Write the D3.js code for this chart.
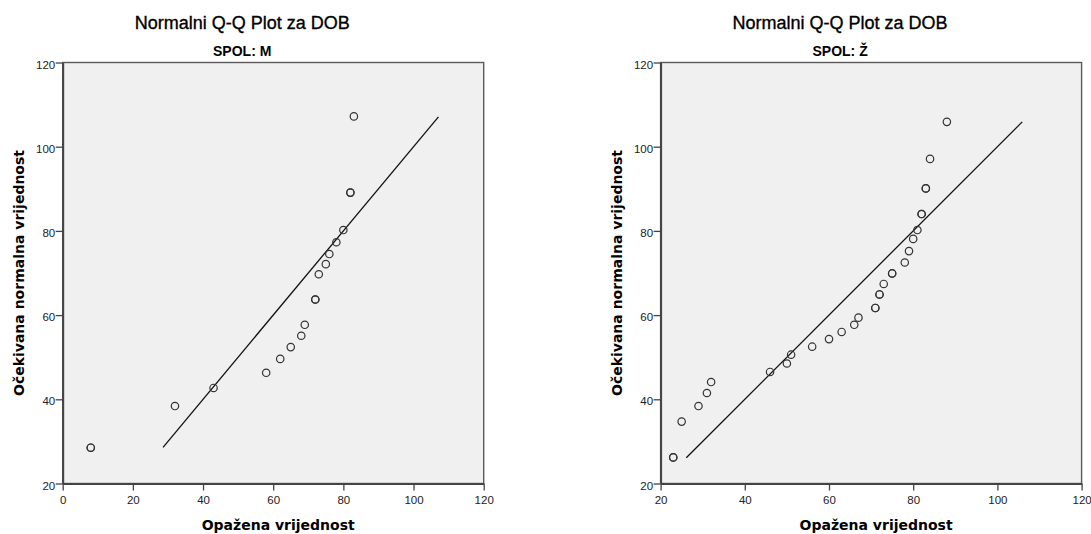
<!DOCTYPE html>
<html>
<head>
<meta charset="utf-8">
<script src="https://cdn.jsdelivr.net/npm/d3@7"></script>
<style>
  body { margin: 0; background: #fff; }
  svg { display: block; }
  .tick text { font-family: "Liberation Sans", Arial, sans-serif; font-size: 11.5px; fill: #222; }
  .tick line { stroke: #444; stroke-width: 1.3; }
  .domain { stroke: #444; stroke-width: 2; }
</style>
</head>
<body>
<div id="chart"></div>
<script>
// panel subtitles
const groups = ['SPOL: M', 'SPOL: Ž'];

// observed values (x) and expected normal values (y), ties repeated
const observedM = [8, 8, 32, 43, 58, 62, 65, 68, 69, 72, 72, 73, 75, 76, 78, 80, 82, 82, 83];
const expectedM = [28.5, 28.5, 38.4, 42.7, 46.3, 49.6, 52.4, 55.1, 57.7, 63.7, 63.7, 69.7, 72.1, 74.5, 77.3, 80.2, 89.1, 89.1, 107.2];

const observedZ = [23, 23, 25, 29, 31, 32, 46, 50, 51, 56, 60, 63, 66, 67, 71, 71, 72, 72, 73, 75, 75, 78, 79, 80, 81, 82, 82, 83, 83, 84, 88];
const expectedZ = [26.2, 26.2, 34.7, 38.4, 41.5, 44.1, 46.5, 48.5, 50.6, 52.5, 54.3, 56.0, 57.7, 59.4, 61.7, 61.7, 64.9, 64.9, 67.4, 69.9, 69.9, 72.5, 75.2, 78.1, 80.2, 84.0, 84.0, 90.1, 90.1, 97.1, 105.9];

// reference line y = x, start and end
const lineM = [28.6, 107.1];
const lineZ = [26.1, 105.9];

// axis ticks
const xTicksM = [0, 20, 40, 60, 80, 100, 120];
const xTicksZ = [20, 40, 60, 80, 100, 120];
const yTicks = [20, 40, 60, 80, 100, 120];

const width = 1091, height = 534;
const svg = d3.select('#chart').append('svg')
    .attr('width', width)
    .attr('height', height);

const panels = [
    { left: 62.7, sub: groups[0], obs: observedM, exp: expectedM, line: lineM, xTicks: xTicksM },
    { left: 660.6, sub: groups[1], obs: observedZ, exp: expectedZ, line: lineZ, xTicks: xTicksZ }
];

const plotTop = 62.5, size = 421;

panels.forEach(p => {
    const xScale = d3.scaleLinear()
        .domain(d3.extent(p.xTicks))
        .range([p.left, p.left + size]);
    const yScale = d3.scaleLinear()
        .domain(d3.extent(yTicks))
        .range([plotTop + size, plotTop]);

    const g = svg.append('g');

    // plot background and frame
    g.append('rect')
        .attr('x', p.left)
        .attr('y', plotTop)
        .attr('width', size)
        .attr('height', size)
        .style('fill', '#f0f0f0')
        .style('stroke', '#5a5a5a')
        .style('stroke-width', 1.4);

    // reference line
    g.append('line')
        .attr('x1', xScale(p.line[0]))
        .attr('y1', yScale(p.line[0]))
        .attr('x2', xScale(p.line[1]))
        .attr('y2', yScale(p.line[1]))
        .style('stroke', '#111')
        .style('stroke-width', 1.3);

    // points
    const pts = p.obs.map((v, i) => ({ x: v, y: p.exp[i] }));
    g.selectAll('.pt')
        .data(pts)
        .enter().append('circle')
        .attr('class', 'pt')
        .attr('cx', d => xScale(d.x))
        .attr('cy', d => yScale(d.y))
        .attr('r', 3.7)
        .style('fill', 'none')
        .style('stroke', '#333')
        .style('stroke-width', 1.2);

    // axes
    g.append('g')
        .attr('transform', `translate(0, ${plotTop + size})`)
        .call(d3.axisBottom(xScale).tickValues(p.xTicks).tickFormat(d3.format('d'))
            .tickSize(7).tickSizeOuter(0).tickPadding(5.5));

    const yAxis = g.append('g')
        .attr('transform', `translate(${p.left}, 0)`)
        .call(d3.axisLeft(yScale).tickValues(yTicks).tickFormat(d3.format('d'))
            .tickSize(7).tickSizeOuter(0).tickPadding(0.5));
    yAxis.selectAll('text').attr('dy', '0.48em');

    svg.selectAll('.domain').attr('fill', 'none');

    // titles
    const cx = p.left + size / 2;
    g.append('text')
        .attr('x', cx - 31)
        .attr('y', 29)
        .attr('text-anchor', 'middle')
        .style('font-family', '"Liberation Sans", Arial, sans-serif')
        .style('font-size', '18px')
        .style('fill', '#000')
        .style('stroke', '#000')
        .style('stroke-width', 0.35)
        .text('Normalni Q-Q Plot za DOB');

    g.append('text')
        .attr('x', cx - 31)
        .attr('y', 56)
        .attr('text-anchor', 'middle')
        .style('font-family', '"Liberation Sans", Arial, sans-serif')
        .style('font-weight', 'bold')
        .style('font-size', '14px')
        .style('fill', '#000')
        .text(p.sub);

    // axis titles
    g.append('text')
        .attr('x', cx + 5)
        .attr('y', 529.5)
        .attr('text-anchor', 'middle')
        .style('font-family', '"DejaVu Sans", sans-serif')
        .style('font-weight', 'bold')
        .style('font-size', '14px')
        .style('fill', '#000')
        .text('Opažena vrijednost');

    g.append('text')
        .attr('transform', `translate(${p.left - 39}, ${plotTop + size / 2}) rotate(-90)`)
        .attr('text-anchor', 'middle')
        .style('font-family', '"DejaVu Sans", sans-serif')
        .style('font-weight', 'bold')
        .style('font-size', '14px')
        .style('fill', '#000')
        .text('Očekivana normalna vrijednost');
});
</script>
</body>
</html>
